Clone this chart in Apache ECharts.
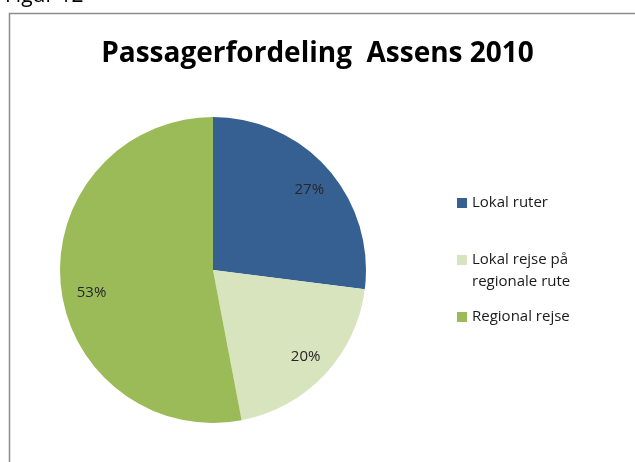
<!DOCTYPE html>
<html>
<head>
<meta charset="utf-8">
<script src="https://cdn.jsdelivr.net/npm/echarts@6/dist/echarts.min.js"></script>
<style>
  html, body { margin: 0; padding: 0; background: #fff; }
  #main { width: 635px; height: 462px; }
</style>
</head>
<body>
<div id="main"></div>
<script>
// data
const categories = ['Lokal ruter', 'Lokal rejse på\nregionale rute', 'Regional rejse'];
const shares = [27, 20, 53];
const colors = ['#376092', '#D7E4BD', '#9BBB59'];

const fontFam = '"Open Sans", "Liberation Sans", sans-serif';
const pieData = categories.map((c, i) => ({ name: c, value: shares[i], itemStyle: { color: colors[i] } }));

const chart = echarts.init(document.getElementById('main'));

const legendBase = {
    orient: 'vertical',
    left: 457,
    padding: 0,
    itemWidth: 10,
    itemHeight: 10,
    itemGap: 0,
    icon: 'rect',
    selectedMode: false,
    textStyle: { fontFamily: fontFam, fontSize: 15, color: '#1a1a1a', lineHeight: 22 }
};

let option = {
    animation: false,
    title: {
        text: 'Passagerfordeling  Assens 2010',
        left: 'center',
        top: 35,
        textStyle: { fontFamily: fontFam, fontWeight: 'bold', fontSize: 28, color: '#000' }
    },
    legend: [
        Object.assign({}, legendBase, { top: 192, data: [categories[0]] }),
        // empty first line so the square sits beside the first text line
        Object.assign({}, legendBase, { top: 227, data: [categories[1]], formatter: n => '\n' + n }),
        Object.assign({}, legendBase, { top: 306, data: [categories[2]] })
    ],
    graphic: [
        {
            type: 'rect', silent: true,
            shape: { x: 9.5, y: 13.5, width: 700, height: 500 },
            style: { fill: 'none', stroke: '#8c8c8c', lineWidth: 1.5 }
        },
        {
            type: 'text', silent: true, left: 5, top: -14,
            style: { text: 'Figur 12', font: '21px ' + fontFam, fill: '#000' }
        }
    ],
    series: [
        {
            type: 'pie',
            center: [213, 270],
            radius: [0, 153],
            startAngle: 90,
            clockwise: true,
            silent: true,
            label: { show: false },
            labelLine: { show: false },
            itemStyle: { borderWidth: 0 },
            data: pieData
        },
        {
            // label ring
            type: 'pie',
            center: [213, 270],
            radius: [95, 153],
            startAngle: 90,
            silent: true,
            legendHoverLink: false,
            itemStyle: { color: 'rgba(0,0,0,0)', borderWidth: 0 },
            label: {
                show: true,
                position: 'inside',
                formatter: '{c}%',
                fontFamily: fontFam,
                fontSize: 15,
                color: '#262626'
            },
            labelLine: { show: false },
            data: categories.map((c, i) => ({
                name: c + ' ',
                value: shares[i],
                label: i === 2 ? { offset: [5, 11] } : (i === 0 ? { offset: [1, 4] } : {})
            }))
        }
    ]
};

chart.setOption(option);
</script>
</body>
</html>
